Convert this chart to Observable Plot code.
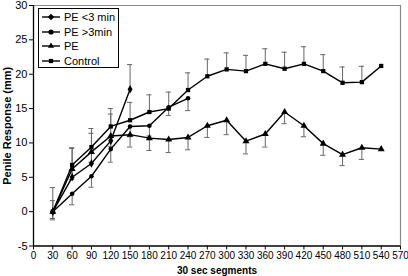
<!DOCTYPE html>
<html>
<head>
<meta charset="utf-8">
<script src="https://cdn.jsdelivr.net/npm/d3@7"></script>
<script src="https://cdn.jsdelivr.net/npm/@observablehq/plot@0.6"></script>
<style>
  body { margin: 0; background: #fff; }
  #wrap { position: relative; width: 408px; height: 276px; font-family: "Liberation Sans", Arial, sans-serif; }
  #legend { position: absolute; left: 38px; top: 8px; width: 81px; height: 60px; border: 1px solid #000; background: #fff; box-sizing: border-box; padding-top: 1px; }
  #legend .row { display: flex; align-items: center; height: 14.6px; font-size: 11px; color: #000; }
  #legend svg { margin-left: 3px; margin-right: 4px; }
  g[aria-label="y-axis label"] text, g[aria-label="x-axis label"] text { font-weight: bold; }
</style>
</head>
<body>
<div id="wrap"></div>
<script>
const segments = [30, 60, 90, 120, 150, 180, 210, 240, 270, 300, 330, 360, 390, 420, 450, 480, 510, 540];
const xTicks = [0, 30, 60, 90, 120, 150, 180, 210, 240, 270, 300, 330, 360, 390, 420, 450, 480, 510, 540, 570];
const yTicks = [-5, 0, 5, 10, 15, 20, 25, 30];

const peLess3 = [0, 5.0, 7.0, 10.3, 17.8];
const peLess3Err = [3.5, 4.2, 4.4, 3.9, 3.6];
const peMore3 = [0, 2.6, 5.15, 9.1, 12.4, 12.5, 15.2, 16.5];
const peMore3Err = [1.2, 1.6, 1.6, 1.9, 1.5, 1.5, 1.2, 1.8];
const pe = [0, 6.2, 8.7, 11.0, 11.2, 10.7, 10.5, 10.8, 12.5, 13.3, 10.25, 11.3, 14.5, 12.5, 9.9, 8.3, 9.3, 9.1];
const peErr = [1.0, 1.5, 1.5, 1.5, 1.8, 1.8, 1.9, 1.8, 1.7, 2.1, 1.85, 1.9, 1.7, 1.6, 1.7, 1.6, 1.7, 0];
const control = [0, 6.8, 9.4, 12.4, 13.3, 14.5, 15.0, 17.7, 19.7, 20.7, 20.45, 21.5, 20.8, 21.5, 20.45, 18.75, 18.85, 21.2];
const controlErr = [1.6, 2.5, 2.7, 2.6, 2.6, 2.5, 2.4, 2.5, 2.5, 2.4, 2.3, 2.2, 2.4, 2.5, 2.4, 2.3, 2.3, 0];

const seriesDefs = [
  {name: "PE <3 min", values: peLess3, err: peLess3Err, dir: 1, symbol: "diamond", r: 2.6},
  {name: "PE >3min", values: peMore3, err: peMore3Err, dir: -1, symbol: "circle", r: 2.3},
  {name: "PE", values: pe, err: peErr, dir: -1, symbol: "triangle", r: 2.6},
  {name: "Control", values: control, err: controlErr, dir: 1, symbol: "square", r: 2.4}
];

const rows = [];
for (const s of seriesDefs) {
  s.values.forEach((v, i) => rows.push({series: s.name, t: segments[i], v, e: s.err[i], end: v + s.dir * s.err[i], symbol: s.symbol, r: s.r}));
}
const bars = rows.filter(d => d.e > 0);
const cap = 4;

const marks = [
  Plot.ruleY([30], {stroke: "#8a8a8a", strokeWidth: 1.2}),
  Plot.ruleX([570], {stroke: "#8a8a8a", strokeWidth: 1.2}),
  Plot.ruleX(bars, {x: "t", y1: "v", y2: "end", stroke: "#666", strokeWidth: 1}),
  Plot.ruleY(bars, {y: "end", x1: d => d.t - cap, x2: d => d.t + cap, stroke: "#666", strokeWidth: 1}),
  Plot.line(rows, {x: "t", y: "v", z: "series", stroke: "#000", strokeWidth: 1.4}),
];
for (const s of seriesDefs) {
  marks.push(Plot.dot(rows.filter(d => d.series === s.name), {x: "t", y: "v", symbol: () => s.symbol, r: s.r, fill: "#000", stroke: "none"}));
}
marks.push(
  Plot.axisY({ticks: yTicks, tickFormat: d => String(d), tickSize: 4, tickPadding: 2, fontSize: 11, label: "Penile Response (mm)", labelAnchor: "center", labelArrow: "none", labelOffset: 30}),
  Plot.axisX({ticks: xTicks, tickFormat: d => String(d), tickSize: 4, tickPadding: 2, fontSize: 10, label: "30 sec segments", labelAnchor: "center", labelArrow: "none", labelOffset: 28}),
  Plot.ruleX([0], {stroke: "#000", strokeWidth: 1.3}),
  Plot.ruleY([-5], {stroke: "#000", strokeWidth: 1.3})
);

const chart = Plot.plot({
  width: 408,
  height: 276,
  marginLeft: 33,
  marginRight: 8,
  marginTop: 5,
  marginBottom: 30.5,
  x: {domain: [0, 570]},
  y: {domain: [-5, 30]},
  symbol: {type: "identity"},
  style: {fontFamily: "Liberation Sans, Arial, sans-serif", fontSize: "11px", color: "#000", background: "#fff"},
  marks
});
const wrap = document.getElementById("wrap");
wrap.appendChild(chart);

// legend
const legend = document.createElement("div");
legend.id = "legend";
const symMap = {diamond: d3.symbolDiamond2, circle: d3.symbolCircle, triangle: d3.symbolTriangle2, square: d3.symbolSquare2};
for (const s of seriesDefs) {
  const row = document.createElement("div");
  row.className = "row";
  const sw = d3.create("svg").attr("width", 18).attr("height", 10);
  sw.append("line").attr("x1", 0).attr("x2", 18).attr("y1", 5).attr("y2", 5).attr("stroke", "#000").attr("stroke-width", 1.4);
  sw.append("path").attr("d", d3.symbol(symMap[s.symbol], s.r * s.r * 4)()).attr("transform", "translate(9,5)").attr("fill", "#000");
  row.appendChild(sw.node());
  const label = document.createElement("span");
  label.textContent = s.name;
  row.appendChild(label);
  legend.appendChild(row);
}
wrap.appendChild(legend);
</script>
</body>
</html>
